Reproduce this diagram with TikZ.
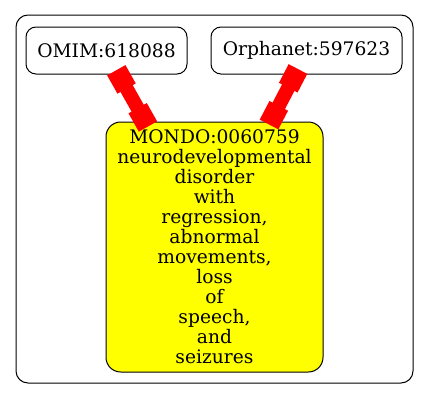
\documentclass[tikz,border=0pt]{standalone}
\usepackage{fontspec}
\setmainfont{DejaVu Serif}
\usetikzlibrary{arrows.meta}
\definecolor{edgered}{RGB}{255,0,0}
\definecolor{nodeyellow}{RGB}{255,255,0}
\tikzset{
  termbox/.style={draw=black, line width=0.75pt, rounded corners=7.5pt, inner sep=0pt,
    font=\fontsize{14}{15}\selectfont, align=center},
  xref/.style={draw=edgered, line width=10.5pt,
    {Square[length=15.75pt,width=15.75pt,fill=edgered]}-{Square[length=15.75pt,width=15.75pt,fill=edgered]}},
  cluster/.style={draw=black, line width=0.75pt, rounded corners=9pt}
}
\begin{document}
\begin{tikzpicture}[x=0.75pt,y=-0.75pt]
\useasboundingbox (0,0) rectangle (429,400);
\draw[cluster] (16,15) rectangle (413,383);
\node[termbox, minimum width=120.75pt, minimum height=35.25pt] (omim) at (106.5,50.5) {OMIM:618088};
\node[termbox, minimum width=143.25pt, minimum height=35.25pt] (orpha) at (306.5,50.5) {Orphanet:597623};
\node[termbox, fill=nodeyellow, rounded corners=11pt, minimum width=162.75pt, minimum height=187.5pt] (mondo) at (214.5,247)
  {MONDO:0060759\\neurodevelopmental\\disorder\\with\\regression,\\abnormal\\movements,\\loss\\of\\speech,\\and\\seizures};
\draw[xref] ([xshift=7.35pt,yshift=3.2pt]omim.south) -- ([xshift=-49.9pt,yshift=-3.75pt]mondo.north);
\draw[xref] ([xshift=-6.4pt,yshift=4.1pt]orpha.south) -- ([xshift=40.9pt,yshift=-2.25pt]mondo.north);
\end{tikzpicture}
\end{document}
